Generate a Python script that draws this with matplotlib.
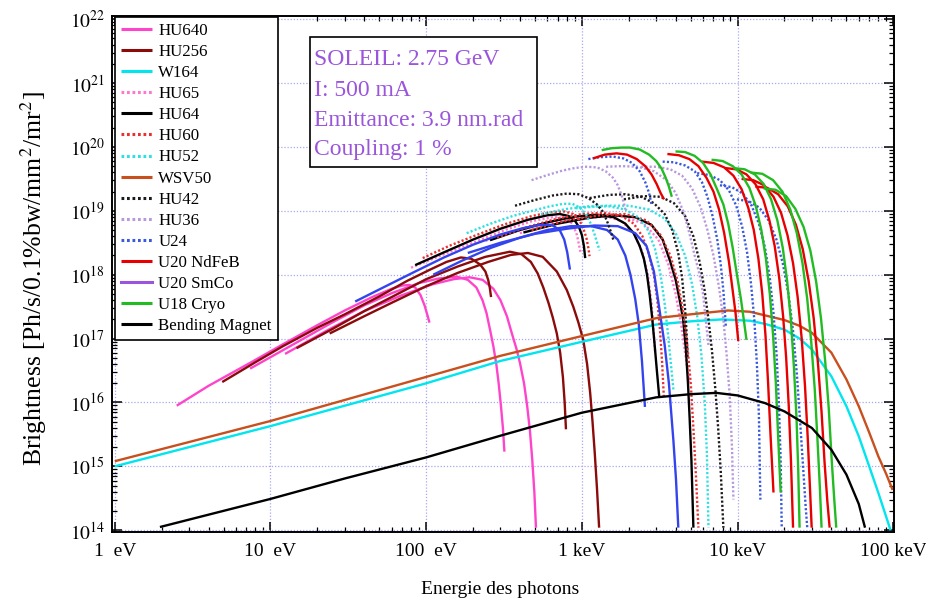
import matplotlib
matplotlib.use('Agg')
import matplotlib.pyplot as plt
from matplotlib.patches import Rectangle
from matplotlib.ticker import FixedLocator, LogLocator, NullFormatter, FixedFormatter

plt.rcParams['font.family'] = ['Liberation Serif', 'DejaVu Serif']
plt.rcParams['mathtext.fontset'] = 'stix'

# ---------------- data ----------------
# each curve: (photon energies in eV, log10 of brightness in Ph/s/0.1%bw/mm2/mr2)
HU640 = [
    ([2.5, 4, 7.4, 12, 20, 30, 45, 60, 70, 78, 85, 92, 97.6, 102, 105],
     [15.95, 16.26, 16.62, 16.91, 17.21, 17.44, 17.65, 17.78, 17.83, 17.84, 17.8, 17.68, 17.52, 17.36, 17.25]),
    ([7.4, 15, 24, 40, 60, 90, 120, 157, 185, 210, 230, 244, 258, 270, 282, 292, 302, 311, 318],
     [16.53, 16.95, 17.23, 17.52, 17.71, 17.87, 17.94, 17.97, 17.92, 17.8, 17.6, 17.4, 17.12, 16.88, 16.6, 16.3,
      15.95, 15.6, 15.23]),
    ([12.4, 24, 40, 70, 110, 150, 190, 230, 270, 300, 330, 355, 381, 400, 425, 445, 464, 480, 495, 507],
     [16.76, 17.15, 17.43, 17.68, 17.85, 17.93, 17.96, 17.92, 17.78, 17.6, 17.35, 17.08, 16.83, 16.62, 16.3, 15.95,
      15.55, 15.1, 14.6, 14.04]),
]
HU256 = [
    ([4.9, 8, 12, 20, 30, 50, 75, 106, 135, 167, 195, 222, 240, 250, 256, 261],
     [16.32, 16.63, 16.88, 17.17, 17.38, 17.66, 17.9, 18.08, 18.2, 18.27, 18.25, 18.16, 18.05, 17.92, 17.8, 17.65]),
    ([14.7, 25, 40, 60, 100, 160, 240, 345, 410, 470, 520, 565, 610, 650, 690, 725, 755, 775, 790],
     [16.85, 17.15, 17.43, 17.65, 17.93, 18.13, 18.28, 18.36, 18.32, 18.2, 18.02, 17.8, 17.56, 17.33, 17.08, 16.78,
      16.4, 16.0, 15.58]),
    ([24, 40, 60, 100, 160, 250, 350, 450, 560, 690, 800, 880, 950, 1020, 1080, 1130, 1170, 1210, 1250, 1290],
     [17.08, 17.35, 17.56, 17.82, 18.03, 18.2, 18.31, 18.34, 18.28, 18.05, 17.76, 17.5, 17.25, 16.98, 16.6, 16.15,
      15.7, 15.2, 14.65, 14.04]),
]
W164_E = [1, 10, 100, 300, 1000, 3000, 5000, 7900, 12000, 15000, 20000, 25000, 30000, 40000, 50000, 60000,
          70000, 80000, 96000]
W164_LOGB = [15.0, 15.63, 16.3, 16.65, 16.95, 17.22, 17.27, 17.3, 17.28, 17.23, 17.14, 17.0, 16.83, 16.41, 15.94,
             15.47, 15.0, 14.59, 14.0]
HU65 = [
    ([80, 130, 200, 320, 480, 650, 780, 870, 930, 980],
     [18.11, 18.32, 18.5, 18.7, 18.84, 18.9, 18.89, 18.8, 18.62, 18.35]),
    ([240, 400, 650, 1000, 1400, 1800, 2150, 2450, 2650, 2800, 2950],
     [18.53, 18.7, 18.83, 18.91, 18.92, 18.84, 18.65, 18.35, 18.0, 17.55, 16.8]),
    ([400, 700, 1200, 1800, 2500, 3100, 3600, 4000, 4350, 4650, 4900],
     [18.65, 18.8, 18.9, 18.92, 18.8, 18.55, 18.15, 17.7, 17.2, 16.7, 16.3]),
]
HU64 = [
    ([85, 130, 200, 300, 450, 600, 720, 820, 900, 960, 1000, 1030, 1050],
     [18.15, 18.35, 18.55, 18.72, 18.86, 18.93, 18.95, 18.92, 18.85, 18.74, 18.62, 18.45, 18.26]),
    ([257, 400, 600, 900, 1250, 1600, 1900, 2150, 2350, 2500, 2620, 2720, 2820, 2920, 3030, 3140],
     [18.54, 18.7, 18.82, 18.91, 18.94, 18.9, 18.8, 18.65, 18.45, 18.25, 18.0, 17.7, 17.35, 16.95, 16.5, 16.08]),
    ([421, 700, 1100, 1600, 2200, 2800, 3300, 3700, 4000, 4250, 4470, 4650, 4800, 4920, 5050, 5200],
     [18.66, 18.8, 18.89, 18.93, 18.9, 18.78, 18.55, 18.2, 17.92, 17.6, 17.3, 16.85, 16.3, 15.75, 15.1, 14.04]),
]
HU60 = [
    ([95, 140, 210, 320, 480, 640, 780, 880, 960, 1020, 1070, 1100, 1120],
     [18.26, 18.45, 18.62, 18.79, 18.92, 18.98, 18.99, 18.95, 18.86, 18.73, 18.57, 18.42, 18.29]),
    ([285, 450, 700, 1000, 1400, 1800, 2150, 2450, 2700, 2900, 3050, 3170, 3270, 3360],
     [18.58, 18.75, 18.88, 18.95, 18.97, 18.92, 18.8, 18.6, 18.32, 18.0, 17.6, 17.15, 16.65, 16.08]),
    ([475, 800, 1300, 1900, 2600, 3200, 3700, 4100, 4450, 4750, 5000, 5200, 5400, 5600],
     [18.7, 18.85, 18.93, 18.95, 18.85, 18.62, 18.3, 17.92, 17.45, 16.9, 16.3, 15.6, 14.85, 14.04]),
]
HU52 = [
    ([182, 260, 360, 480, 620, 760, 870, 970, 1060, 1140, 1210, 1260, 1300],
     [18.65, 18.8, 18.92, 19.0, 19.07, 19.11, 19.11, 19.05, 18.95, 18.8, 18.62, 18.48, 18.38]),
    ([546, 800, 1100, 1500, 1900, 2300, 2650, 2950, 3200, 3400, 3580, 3730, 3870],
     [18.95, 19.03, 19.07, 19.07, 19.02, 18.9, 18.7, 18.4, 18.0, 17.55, 17.05, 16.6, 16.2]),
    ([910, 1400, 2000, 2700, 3400, 4000, 4600, 5100, 5500, 5850, 6150, 6350, 6500],
     [19.04, 19.08, 19.08, 19.02, 18.88, 18.65, 18.3, 17.85, 17.35, 16.75, 16.0, 15.2, 14.04]),
]
BLUE = [
    ([35, 55, 85, 130, 200, 300, 420, 540, 640, 720, 770, 805, 838],
     [17.58, 17.82, 18.05, 18.27, 18.47, 18.63, 18.73, 18.78, 18.78, 18.7, 18.55, 18.35, 18.08]),
    ([111, 170, 260, 400, 600, 850, 1150, 1450, 1700, 1900, 2050, 2200, 2320, 2430, 2540],
     [18.0, 18.22, 18.42, 18.58, 18.7, 18.76, 18.76, 18.7, 18.55, 18.3, 18.0, 17.62, 17.22, 16.65, 15.93]),
    ([185, 300, 500, 800, 1200, 1700, 2200, 2600, 2900, 3150, 3400, 3620, 3870, 4020, 4160],
     [18.34, 18.5, 18.64, 18.72, 18.77, 18.76, 18.65, 18.45, 18.05, 17.45, 16.9, 16.3, 15.4, 14.8, 14.04]),
]
WSV50_E = [1, 10, 100, 300, 1000, 3000, 5000, 8700, 12000, 20000, 25000, 30000, 40000, 50000, 60000, 70000,
           80000, 90000, 99000]
WSV50_LOGB = [15.08, 15.71, 16.4, 16.73, 17.04, 17.32, 17.38, 17.44, 17.42, 17.29, 17.2, 17.09, 16.78, 16.36,
              15.94, 15.53, 15.16, 14.88, 14.63]
HU42 = [
    ([372, 500, 650, 800, 950, 1100, 1250, 1370, 1460, 1530, 1590],
     [19.08, 19.17, 19.24, 19.27, 19.26, 19.2, 19.1, 18.98, 18.82, 18.68, 18.55]),
    ([1120, 1500, 1900, 2400, 2900, 3400, 3800, 4150, 4400, 4600, 4700, 4770],
     [19.2, 19.25, 19.26, 19.22, 19.12, 18.95, 18.7, 18.35, 17.95, 17.45, 17.1, 16.7]),
    ([1860, 2500, 3200, 3900, 4600, 5200, 5700, 6100, 6500, 6850, 7200, 7500, 7800, 8100],
     [19.18, 19.23, 19.22, 19.12, 18.92, 18.6, 18.2, 17.8, 17.3, 16.8, 16.2, 15.6, 14.9, 14.04]),
]
HU36 = [
    ([475, 600, 750, 900, 1070, 1250, 1420, 1580, 1700, 1800, 1860, 1900],
     [19.48, 19.56, 19.63, 19.67, 19.69, 19.68, 19.62, 19.52, 19.4, 19.24, 19.12, 19.02]),
    ([1430, 1800, 2300, 2900, 3500, 4000, 4500, 4900, 5300, 5700, 6000, 6300, 6500],
     [19.69, 19.7, 19.69, 19.62, 19.48, 19.28, 18.98, 18.65, 18.3, 18.0, 17.7, 17.2, 16.9]),
    ([2400, 3000, 3700, 4400, 5100, 5800, 6400, 7000, 7600, 8100, 8500, 8900, 9200, 9400],
     [19.69, 19.69, 19.65, 19.55, 19.35, 19.05, 18.7, 18.3, 17.8, 17.3, 16.75, 16.1, 15.3, 14.48]),
]
U24 = [
    ([1100, 1300, 1580, 1850, 2100, 2350, 2550, 2700, 2800],
     [19.81, 19.84, 19.85, 19.82, 19.75, 19.62, 19.45, 19.28, 19.1]),
    ([3300, 3900, 4600, 5300, 5900, 6400, 6900, 7400, 7800, 8100, 8400],
     [19.77, 19.76, 19.71, 19.62, 19.45, 19.22, 18.92, 18.55, 18.15, 17.75, 17.2]),
    ([5500, 6600, 7700, 8800, 9800, 10700, 11500, 12200, 12800, 13300, 13700, 14000],
     [19.59, 19.56, 19.48, 19.32, 19.08, 18.75, 18.35, 17.85, 17.3, 16.6, 15.8, 14.48]),
    ([7700, 9200, 10800, 12300, 13700, 15000, 16100, 17000, 17800, 18400, 18900, 19200],
     [19.4, 19.37, 19.27, 19.08, 18.8, 18.42, 17.95, 17.4, 16.75, 16.0, 15.1, 14.04]),
    ([9900, 11800, 13800, 15800, 17700, 19500, 21200, 22700, 24000, 25200, 26400, 27300, 28000],
     [19.18, 19.15, 19.05, 18.85, 18.56, 18.18, 17.7, 17.12, 16.45, 15.7, 14.95, 14.4, 14.04]),
]
U20_NDFEB = [
    ([1180, 1400, 1670, 1950, 2250, 2550, 2800, 3020, 3200, 3370],
     [19.82, 19.88, 19.9, 19.88, 19.81, 19.7, 19.57, 19.42, 19.28, 19.18]),
    ([3540, 4200, 4900, 5600, 6300, 7000, 7600, 8200, 8800, 9300, 9700, 10100],
     [19.89, 19.87, 19.81, 19.7, 19.52, 19.3, 19.02, 18.65, 18.2, 17.75, 17.4, 16.96]),
    ([5900, 7000, 8200, 9400, 10600, 11700, 12700, 13600, 14400, 15100, 15700, 16300, 17000],
     [19.77, 19.75, 19.68, 19.55, 19.34, 19.05, 18.7, 18.25, 17.7, 17.05, 16.3, 15.45, 14.59]),
    ([8300, 9800, 11400, 13000, 14600, 16000, 17300, 18500, 19600, 20500, 21300, 22000, 22700],
     [19.67, 19.65, 19.57, 19.42, 19.18, 18.85, 18.45, 17.95, 17.35, 16.7, 15.95, 15.1, 14.04]),
    ([10600, 12600, 14800, 17000, 19000, 20900, 22700, 24300, 25800, 27100, 28200, 29100, 29900],
     [19.5, 19.48, 19.4, 19.22, 18.97, 18.62, 18.18, 17.65, 17.0, 16.25, 15.45, 14.7, 14.04]),
    ([13000, 15500, 18200, 21000, 23700, 26200, 28600, 30800, 32800, 34600, 36200, 37700, 39000],
     [19.38, 19.36, 19.26, 19.07, 18.78, 18.4, 17.9, 17.32, 16.62, 15.85, 15.05, 14.45, 14.04]),
]
U20_SMCO = []
U18_CRYO = [
    ([1340, 1550, 1800, 2040, 2350, 2700, 3000, 3250, 3450, 3620, 3780],
     [19.95, 19.98, 19.99, 19.99, 19.96, 19.88, 19.78, 19.66, 19.52, 19.38, 19.22]),
    ([3990, 4600, 5300, 6000, 6700, 7400, 8100, 8700, 9300, 9900, 10500, 10950, 11400],
     [19.93, 19.92, 19.86, 19.75, 19.57, 19.33, 19.1, 18.8, 18.42, 18.0, 17.62, 17.3, 16.98]),
    ([6800, 8000, 9300, 10600, 11900, 13100, 14200, 15200, 16100, 16900, 17600, 18300, 18900],
     [19.8, 19.78, 19.7, 19.57, 19.36, 19.07, 18.7, 18.25, 17.7, 17.05, 16.3, 15.35, 14.59]),
    ([9400, 11100, 12900, 14700, 16400, 18000, 19500, 20800, 22000, 23000, 23900, 24500, 25000],
     [19.67, 19.65, 19.57, 19.42, 19.18, 18.85, 18.42, 17.9, 17.28, 16.55, 15.75, 14.95, 14.04]),
    ([12100, 14400, 16900, 19400, 21800, 24000, 26100, 28000, 29700, 31300, 32600, 33700, 34600],
     [19.6, 19.58, 19.48, 19.3, 19.02, 18.65, 18.18, 17.62, 16.95, 16.2, 15.4, 14.7, 14.04]),
    ([14700, 17500, 20500, 23500, 26500, 29300, 31900, 34300, 36500, 38500, 40200, 41700, 43000],
     [19.35, 19.33, 19.23, 19.03, 18.75, 18.38, 17.9, 17.32, 16.65, 15.9, 15.1, 14.5, 14.04]),
]
BM_E = [1.95, 10, 30, 100, 300, 1000, 3000, 5000, 7300, 10000, 15000, 20000, 30000, 40000, 50000, 60000, 65800]
BM_LOGB = [14.05, 14.49, 14.81, 15.14, 15.48, 15.84, 16.08, 16.13, 16.15, 16.11, 15.99, 15.86, 15.6, 15.26,
           14.87, 14.41, 14.04]

X_TICKS = [1, 10, 100, 1e3, 1e4, 1e5]
X_LABELS = ['1  eV', '10  eV', '100  eV', '1 keV', '10 keV', '100 keV']
Y_TICKS = [1e14, 1e15, 1e16, 1e17, 1e18, 1e19, 1e20, 1e21, 1e22]
Y_LABELS = [r'$10^{%d}$' % k for k in range(14, 23)]

INFO = ['SOLEIL: 2.75 GeV', 'I: 500 mA', 'Emittance: 3.9 nm.rad', 'Coupling: 1 %']

# ---------------- figure ----------------
fig = plt.figure(figsize=(9.26, 6.0), dpi=100)
ax = fig.add_axes([112 / 926, 1 - 531.5 / 600, (894 - 112) / 926, (531.5 - 16) / 600])
ax.set_xscale('log')
ax.set_yscale('log')
ax.set_xlim(0.96, 1.01e5)
ax.set_ylim(10 ** 13.98, 10 ** 22.05)

DOT = (0, (0.9, 0.9))
LW = 1.7
series = [
    ('HU640', HU640, '#ff44cc', '-'),
    ('HU256', HU256, '#8b0a0a', '-'),
    ('W164', [(W164_E, W164_LOGB)], '#00e5ee', '-'),
    ('HU65', HU65, '#ff77cc', DOT),
    ('HU64', HU64, '#000000', '-'),
    ('HU60', HU60, '#e83030', DOT),
    ('HU52', HU52, '#2ee0e0', DOT),
    (None, BLUE, '#3344ee', '-'),
    ('WSV50', [(WSV50_E, WSV50_LOGB)], '#c8501e', '-'),
    ('HU42', HU42, '#1a1a1a', DOT),
    ('HU36', HU36, '#b898dc', DOT),
    ('U24', U24, '#3858dd', DOT),
    ('U20 NdFeB', U20_NDFEB, '#e80000', '-'),
    ('U20 SmCo', U20_SMCO, '#9955dd', '-'),
    ('U18 Cryo', U18_CRYO, '#22bb22', '-'),
    ('Bending Magnet', [(BM_E, BM_LOGB)], '#000000', '-'),
]

handles, labels = [], []
for name, curves, color, ls in series:
    h = None
    for e, lb in curves:
        b = [10.0 ** v for v in lb]
        line, = ax.plot(e, b, color=color, linestyle=ls, linewidth=LW,
                        solid_capstyle='butt', solid_joinstyle='round')
        if h is None:
            h = line
    if name is not None:
        if h is None:
            h, = ax.plot([], [], color=color, linestyle=ls, linewidth=LW)
        handles.append(h)
        labels.append(name)

# ticks
ax.xaxis.set_major_locator(FixedLocator(X_TICKS))
ax.xaxis.set_major_formatter(FixedFormatter(X_LABELS))
ax.xaxis.set_minor_locator(LogLocator(base=10, subs=range(2, 10), numticks=100))
ax.xaxis.set_minor_formatter(NullFormatter())
ax.yaxis.set_major_locator(FixedLocator(Y_TICKS))
ax.yaxis.set_major_formatter(FixedFormatter(Y_LABELS))
ax.yaxis.set_minor_locator(LogLocator(base=10, subs=range(2, 10), numticks=100))
ax.yaxis.set_minor_formatter(NullFormatter())
ax.tick_params(which='major', direction='in', length=7, width=1.1, top=True, right=True,
               labelsize=14, pad=8, colors='black')
ax.tick_params(which='minor', direction='in', length=3.6, width=0.9, top=True, right=True)
ax.tick_params(axis='y', which='major', pad=5)
for s in ax.spines.values():
    s.set_linewidth(1.4)

ax.grid(True, which='major', color='#a8a8ee', linestyle=(0, (1, 1.5)), linewidth=0.9)
ax.set_axisbelow(True)

ax.set_xlabel('Energie des photons', fontsize=14)
ax.xaxis.set_label_coords(0.496, -0.112)
ax.xaxis.label.set_verticalalignment('center')
ax.set_ylabel(r'Brightness [Ph/s/0.1%bw/mm$^2$/mr$^2$]', fontsize=18.5)
ax.yaxis.set_label_coords(-0.1, 0.49)
ax.yaxis.label.set_verticalalignment('center')

leg = ax.legend(handles, labels, loc='upper left', bbox_to_anchor=(0.004, 0.998),
                borderaxespad=0, frameon=True, fancybox=False, edgecolor='black',
                framealpha=1, fontsize=12.2, labelspacing=0.3, handlelength=1.8,
                handletextpad=0.4, borderpad=0.35)
leg.get_frame().set_linewidth(1.2)
leg.set_zorder(10)
for lh in leg.get_lines():
    lh.set_linewidth(2.2)

# info box
ax.add_patch(Rectangle((0.2532, 0.7077), 0.2907, 0.251, transform=ax.transAxes,
                       facecolor='white', edgecolor='black', linewidth=1.2, zorder=11))
for txt, yy in zip(INFO, [0.905, 0.8454, 0.7866, 0.7304]):
    ax.text(0.2583, yy, txt, transform=ax.transAxes, fontsize=17, color='#9a55dc',
            va='baseline', ha='left', zorder=12)

fig.savefig('out.png', dpi=100)
